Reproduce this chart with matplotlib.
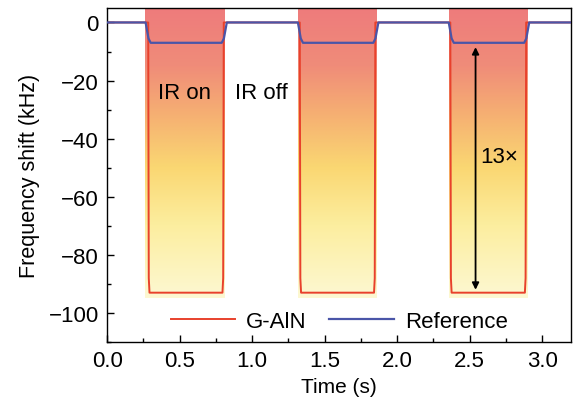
import numpy as np
import matplotlib
matplotlib.use('Agg')
from matplotlib import pyplot as plt
from matplotlib.colors import LinearSegmentedColormap

plt.rcParams['font.family'] = ['Liberation Sans', 'DejaVu Sans']

# 数据
t_galn = [0.0, 0.283, 0.287, 0.292, 0.795, 0.800, 0.804,
          1.328, 1.332, 1.337, 1.840, 1.845, 1.849,
          2.366, 2.370, 2.375, 2.880, 2.885, 2.889, 3.2]
f_galn = [0.0, 0.0, -88, -93, -93, -88, 0.0,
          0.0, -88, -93, -93, -88, 0.0,
          0.0, -88, -93, -93, -88, 0.0, 0.0]

t_ref = [0.0, 0.265, 0.285, 0.300, 0.790, 0.805, 0.825,
         1.315, 1.335, 1.350, 1.835, 1.850, 1.870,
         2.355, 2.375, 2.390, 2.875, 2.890, 2.910, 3.2]
f_ref = [0.0, 0.0, -5.5, -7.0, -7.0, -5.5, 0.0,
         0.0, -5.5, -7.0, -7.0, -5.5, 0.0,
         0.0, -5.5, -7.0, -7.0, -5.5, 0.0, 0.0]

ir_on = [0.263, 1.313, 2.357]
ir_off = [0.810, 1.852, 2.896]

fig = plt.figure(figsize=(5.73, 4.06), dpi=100)
ax = fig.add_axes([0.187, 0.155, 0.81, 0.823])

# 渐变色块
cmap = LinearSegmentedColormap.from_list(
    'ir', [(0.0, '#fdf8d2'), (0.25, '#fcee9f'), (0.45, '#fad772'),
           (0.62, '#f6b272'), (0.8, '#f08c79'), (1.0, '#ee7b7c')])
grad = np.linspace(0, 1, 256).reshape(-1, 1)
for a, b in zip(ir_on, ir_off):
    ax.imshow(grad, extent=[a, b, -95, 5], origin='lower', cmap=cmap,
              aspect='auto', zorder=0, interpolation='bilinear')

ax.plot(t_galn, f_galn, color='#e8412c', lw=1.4, label='G-AlN', zorder=2)
ax.plot(t_ref, f_ref, color='#4a55a8', lw=1.6, label='Reference', zorder=3)

ax.set_xlim(0, 3.2)
ax.set_ylim(-110, 5)
ax.set_xticks([0, 0.5, 1.0, 1.5, 2.0, 2.5, 3.0])
ax.set_xticks(np.arange(0.25, 3.2, 0.5), minor=True)
ax.set_yticks([0, -20, -40, -60, -80, -100])
ax.set_yticks(np.arange(-110, 5, 20), minor=True)
ax.set_yticklabels(['0', '\u221220', '\u221240', '\u221260', '\u221280', '\u2212100'])
ax.tick_params(direction='in', labelsize=16, length=5, width=1, top=False, right=False, pad=6)
ax.tick_params(which='minor', direction='in', length=3, width=1)
for s in ax.spines.values():
    s.set_linewidth(1.0)

ax.set_xlabel('Time (s)', fontsize=15, labelpad=4)
ax.set_ylabel('Frequency shift (kHz)', fontsize=15.5, labelpad=6)

ax.text(0.53, -24, 'IR on', fontsize=16, ha='center', va='center')
ax.text(1.06, -24, 'IR off', fontsize=16, ha='center', va='center')
ax.text(2.70, -46, '13\u00d7', fontsize=16, ha='center', va='center')
ax.annotate('', xy=(2.54, -8.5), xytext=(2.54, -92),
            arrowprops=dict(arrowstyle='<|-|>', color='black', lw=1.3,
                            mutation_scale=10, shrinkA=0, shrinkB=0))

ax.legend(loc='lower center', ncol=2, frameon=False, fontsize=16,
          handlelength=2.9, columnspacing=1.0, handletextpad=0.5,
          bbox_to_anchor=(0.5, -0.03))

plt.savefig('out.png', dpi=100)
